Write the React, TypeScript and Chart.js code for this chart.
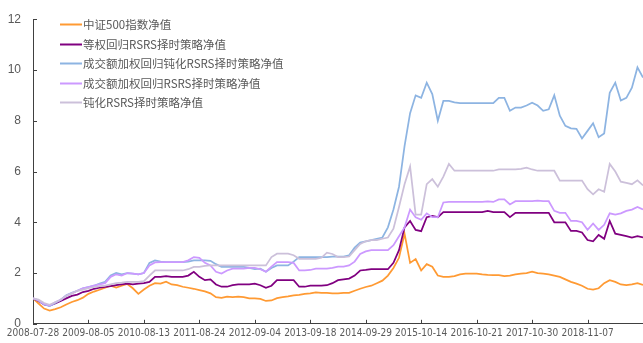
import React, { useEffect, useRef } from 'react';
import { Chart, registerables } from 'chart.js';

Chart.register(...registerables);

const tickLabels = ['2008-07-28', '2009-08-05', '2010-08-13', '2011-08-24', '2012-09-04', '2013-09-18', '2014-09-29', '2015-10-14', '2016-10-21', '2017-10-30', '2018-11-07'];
const pointsPerTick = 10;
const lastIndex = 110;

const seriesNames = ['中证500指数净值', '等权回归RSRS择时策略净值', '成交额加权回归钝化RSRS择时策略净值', '成交额加权回归RSRS择时策略净值', '钝化RSRS择时策略净值'];
const seriesColors = ['#FF9A33', '#800080', '#8DB4E2', '#CC99FF', '#CCC0DA'];

const zz500 = [1.00, 0.80, 0.60, 0.52, 0.58, 0.65, 0.76, 0.86, 0.93, 1.03, 1.18, 1.27, 1.34, 1.42, 1.50, 1.43, 1.50, 1.57, 1.40, 1.18, 1.35, 1.50, 1.60, 1.58, 1.66, 1.55, 1.52, 1.46, 1.42, 1.38, 1.33, 1.28, 1.20, 1.05, 1.02, 1.07, 1.05, 1.07, 1.05, 1.00, 1.00, 0.98, 0.90, 0.92, 1.01, 1.05, 1.08, 1.12, 1.14, 1.18, 1.20, 1.24, 1.22, 1.22, 1.20, 1.20, 1.22, 1.22, 1.30, 1.38, 1.45, 1.50, 1.60, 1.70, 1.90, 2.20, 2.60, 3.55, 2.40, 2.55, 2.10, 2.35, 2.25, 1.90, 1.85, 1.85, 1.88, 1.95, 1.98, 1.98, 1.98, 1.95, 1.93, 1.92, 1.92, 1.88, 1.90, 1.95, 1.98, 2.00, 2.05, 2.00, 1.98, 1.95, 1.90, 1.85, 1.75, 1.65, 1.58, 1.50, 1.38, 1.35, 1.40, 1.60, 1.72, 1.65, 1.55, 1.52, 1.55, 1.60, 1.53];

const equalRsrs = [1.00, 0.90, 0.76, 0.72, 0.80, 0.90, 1.00, 1.10, 1.15, 1.25, 1.30, 1.38, 1.42, 1.45, 1.48, 1.52, 1.55, 1.58, 1.55, 1.58, 1.60, 1.65, 1.85, 1.85, 1.88, 1.85, 1.85, 1.85, 1.90, 2.05, 1.85, 1.72, 1.75, 1.55, 1.46, 1.46, 1.52, 1.55, 1.55, 1.55, 1.58, 1.52, 1.42, 1.50, 1.72, 1.72, 1.72, 1.72, 1.46, 1.46, 1.50, 1.50, 1.50, 1.52, 1.60, 1.72, 1.75, 1.78, 1.90, 2.10, 2.12, 2.15, 2.15, 2.15, 2.15, 2.40, 2.90, 3.80, 4.05, 3.70, 3.65, 4.20, 4.25, 4.20, 4.40, 4.40, 4.40, 4.40, 4.40, 4.40, 4.40, 4.40, 4.45, 4.40, 4.40, 4.40, 4.20, 4.37, 4.37, 4.37, 4.37, 4.37, 4.37, 4.37, 4.00, 4.00, 4.00, 3.66, 3.66, 3.60, 3.30, 3.25, 3.50, 3.35, 4.05, 3.55, 3.50, 3.45, 3.40, 3.45, 3.40];

const volBluntRsrs = [1.00, 0.92, 0.76, 0.70, 0.82, 0.95, 1.12, 1.22, 1.30, 1.40, 1.45, 1.50, 1.58, 1.65, 1.90, 2.00, 1.95, 2.00, 1.98, 1.95, 2.00, 2.40, 2.50, 2.45, 2.43, 2.43, 2.43, 2.43, 2.45, 2.50, 2.50, 2.50, 2.48, 2.35, 2.24, 2.24, 2.24, 2.24, 2.24, 2.20, 2.15, 2.17, 2.05, 2.20, 2.30, 2.30, 2.30, 2.45, 2.63, 2.63, 2.63, 2.63, 2.63, 2.63, 2.65, 2.65, 2.65, 2.70, 3.00, 3.20, 3.25, 3.30, 3.35, 3.40, 3.80, 4.50, 5.40, 7.00, 8.30, 9.00, 8.90, 9.50, 9.05, 8.00, 8.78, 8.78, 8.72, 8.69, 8.69, 8.69, 8.69, 8.69, 8.69, 8.69, 8.90, 8.90, 8.39, 8.52, 8.52, 8.60, 8.71, 8.60, 8.39, 8.45, 9.00, 8.20, 7.80, 7.70, 7.68, 7.30, 7.60, 7.90, 7.35, 7.50, 9.10, 9.50, 8.80, 8.90, 9.30, 10.10, 9.70];

const volRsrs = [1.00, 0.92, 0.78, 0.72, 0.85, 0.95, 1.10, 1.20, 1.30, 1.40, 1.45, 1.50, 1.55, 1.60, 1.85, 1.95, 1.90, 2.00, 1.98, 1.95, 2.00, 2.30, 2.42, 2.43, 2.43, 2.43, 2.43, 2.43, 2.50, 2.63, 2.60, 2.40, 2.30, 2.05, 1.98, 2.10, 2.17, 2.17, 2.17, 2.20, 2.20, 2.15, 2.05, 2.25, 2.43, 2.43, 2.43, 2.40, 2.10, 2.10, 2.12, 2.17, 2.17, 2.17, 2.20, 2.25, 2.25, 2.30, 2.45, 2.75, 2.85, 2.90, 2.90, 2.90, 2.90, 3.10, 3.45, 3.80, 4.50, 4.20, 4.10, 4.35, 4.20, 4.20, 4.78, 4.80, 4.80, 4.80, 4.80, 4.80, 4.80, 4.80, 4.82, 4.80, 4.90, 4.90, 4.70, 4.83, 4.83, 4.83, 4.83, 4.85, 4.83, 4.83, 4.45, 4.37, 4.37, 4.05, 4.05, 4.00, 3.70, 3.95, 3.70, 3.90, 4.35, 4.30, 4.35, 4.45, 4.50, 4.60, 4.50];

const bluntRsrs = [1.00, 0.95, 0.82, 0.75, 0.85, 0.95, 1.10, 1.20, 1.30, 1.35, 1.40, 1.45, 1.48, 1.50, 1.55, 1.60, 1.62, 1.65, 1.65, 1.65, 1.68, 1.90, 2.10, 2.10, 2.10, 2.10, 2.10, 2.10, 2.15, 2.24, 2.24, 2.28, 2.30, 2.30, 2.30, 2.30, 2.30, 2.30, 2.30, 2.30, 2.30, 2.30, 2.30, 2.63, 2.76, 2.76, 2.76, 2.70, 2.56, 2.56, 2.56, 2.56, 2.60, 2.80, 2.75, 2.63, 2.63, 2.65, 2.90, 3.15, 3.25, 3.30, 3.30, 3.35, 3.40, 3.75, 4.60, 5.50, 6.20, 4.30, 4.30, 5.50, 5.70, 5.40, 5.80, 6.30, 6.03, 6.03, 6.03, 6.03, 6.03, 6.03, 6.03, 6.03, 6.08, 6.08, 6.08, 6.08, 6.10, 6.15, 6.08, 6.03, 6.03, 6.03, 6.03, 5.64, 5.64, 5.64, 5.64, 5.64, 5.30, 5.10, 5.30, 5.20, 6.30, 6.00, 5.60, 5.55, 5.50, 5.65, 5.45];

const seriesValues = [zz500, equalRsrs, volBluntRsrs, volRsrs, bluntRsrs];

const AXIS_COLOR = '#404040';
const TEXT_COLOR = '#595959';

const innerTicks = {
  id: 'innerTicks',
  afterDraw(chart: any) {
    const { ctx, chartArea, scales } = chart;
    ctx.save();
    ctx.strokeStyle = AXIS_COLOR;
    ctx.lineWidth = 1;
    ctx.beginPath();
    scales.x.ticks.forEach((t: any) => {
      const px = Math.round(scales.x.getPixelForValue(t.value)) + 0.5;
      ctx.moveTo(px, chartArea.bottom);
      ctx.lineTo(px, chartArea.bottom - 4);
    });
    scales.y.ticks.forEach((t: any) => {
      const py = Math.round(scales.y.getPixelForValue(t.value)) + 0.5;
      ctx.moveTo(chartArea.left, py);
      ctx.lineTo(chartArea.left + 4, py);
    });
    ctx.stroke();
    ctx.restore();
  },
};

const insideLegend = {
  id: 'insideLegend',
  afterDraw(chart: any) {
    const { ctx } = chart;
    const x0 = 60;
    const lineLen = 22;
    const y0 = 24;
    const rowH = 19.5;
    ctx.save();
    ctx.font = '11.5px "Noto Sans CJK SC", "Noto Sans", sans-serif';
    ctx.textBaseline = 'middle';
    ctx.textAlign = 'left';
    chart.data.datasets.forEach((ds: any, i: number) => {
      const y = Math.round(y0 + i * rowH);
      ctx.strokeStyle = ds.borderColor;
      ctx.lineWidth = 2;
      ctx.beginPath();
      ctx.moveTo(x0, y + 0.5);
      ctx.lineTo(x0 + lineLen, y + 0.5);
      ctx.stroke();
      ctx.fillStyle = TEXT_COLOR;
      ctx.fillText(ds.label, x0 + lineLen + 1, y + 1);
    });
    ctx.restore();
  },
};

export default function App() {
  const ref = useRef<HTMLCanvasElement | null>(null);

  useEffect(() => {
    if (!ref.current) return;
    const tickValues = tickLabels.map((_, k) => k * pointsPerTick);
    const datasets = seriesNames.map((name, s) => ({
      label: name,
      data: seriesValues[s].map((v, i) => ({ x: i, y: v })),
      borderColor: seriesColors[s],
      backgroundColor: seriesColors[s],
      borderWidth: 1.75,
      pointRadius: 0,
      tension: 0,
      fill: false,
      order: seriesNames.length - 1 - s,
    }));

    const chart = new Chart(ref.current, {
      type: 'line',
      data: { datasets },
      options: {
        animation: false,
        responsive: false,
        maintainAspectRatio: false,
        layout: { padding: { top: 17, right: 0, left: 0, bottom: 0 } },
        plugins: {
          legend: { display: false },
          tooltip: { enabled: false },
        },
        scales: {
          x: {
            type: 'linear',
            min: 0,
            max: lastIndex,
            afterBuildTicks: (scale: any) => {
              scale.ticks = tickValues.map((v) => ({ value: v }));
            },
            afterFit: (scale: any) => {
              scale.height = 17;
            },
            grid: { display: false, drawTicks: false },
            border: { display: true, color: AXIS_COLOR, width: 1 },
            ticks: {
              autoSkip: false,
              maxRotation: 0,
              minRotation: 0,
              padding: 4,
              color: TEXT_COLOR,
              font: { family: '"Liberation Sans Narrow", "DejaVu Sans Condensed", "Liberation Sans", sans-serif', size: 10 },
              callback: (v: any) => {
                const k = Math.round(Number(v) / pointsPerTick);
                return tickLabels[k] ?? '';
              },
            },
          },
          y: {
            min: 0,
            max: 12,
            afterFit: (scale: any) => {
              scale.width = 33;
            },
            grid: { display: false, drawTicks: false },
            border: { display: true, color: AXIS_COLOR, width: 1 },
            ticks: {
              stepSize: 2,
              padding: 12,
              color: TEXT_COLOR,
              font: { family: '"Liberation Sans", Arial, sans-serif', size: 12 },
            },
          },
        },
      },
      plugins: [innerTicks, insideLegend],
    });

    return () => chart.destroy();
  }, []);

  return (
    <div style={{ position: 'absolute', left: 0, top: 0, width: 643, height: 343, background: '#ffffff' }}>
      <canvas ref={ref} width={643} height={343} style={{ display: 'block', width: 643, height: 343 }} />
    </div>
  );
}
